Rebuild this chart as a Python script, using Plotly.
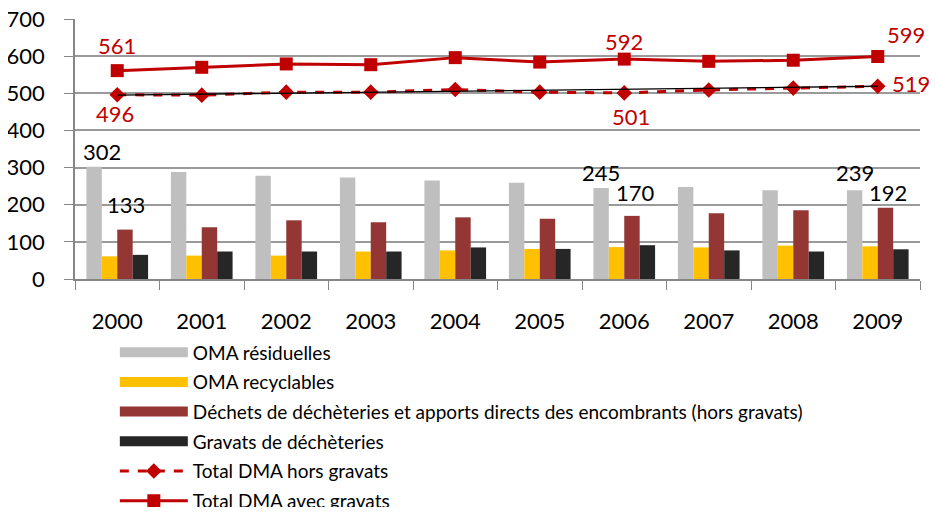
import plotly.graph_objects as go

years = ["2000", "2001", "2002", "2003", "2004", "2005", "2006", "2007", "2008", "2009"]
oma_residuelles = [302, 288, 278, 273, 265, 259, 245, 248, 239, 239]
oma_recyclables = [61, 63, 63, 74, 77, 81, 86, 85, 90, 88]
decheteries = [133, 139, 158, 153, 166, 162, 170, 177, 185, 192]
gravats = [65, 74, 74, 74, 85, 81, 91, 77, 74, 80]
total_hors_gravats = [496, 495, 503, 503, 510, 503, 501, 509, 514, 519]
total_avec_gravats = [561, 570, 579, 577, 596, 584, 592, 586, 589, 599]
trend_years = ["2000", "2009"]
trend_values = [495, 519]

names = ["OMA résiduelles", "OMA recyclables",
         "Déchets de déchèteries et apports directs des encombrants (hors gravats)",
         "Gravats de déchèteries", "Total DMA hors gravats", "Total DMA avec gravats"]
bar_colors = ["#BFBFBF", "#FFC000", "#943634", "#262626"]
RED = "#C00000"
FONT = "Lato"

fig = go.Figure()
for vals, col in zip([oma_residuelles, oma_recyclables, decheteries, gravats], bar_colors):
    fig.add_trace(go.Bar(x=years, y=vals, marker=dict(color=col, line=dict(width=0)),
                         showlegend=False))

fig.add_trace(go.Scatter(x=years, y=total_hors_gravats, mode="lines+markers",
                         line=dict(color=RED, width=3, dash="dash"),
                         marker=dict(symbol="diamond", size=12, color=RED),
                         showlegend=False))
fig.add_trace(go.Scatter(x=trend_years, y=trend_values, mode="lines",
                         line=dict(color="black", width=1.3), showlegend=False))
fig.add_trace(go.Scatter(x=years, y=total_avec_gravats, mode="lines+markers",
                         line=dict(color=RED, width=3),
                         marker=dict(symbol="square", size=13, color=RED),
                         showlegend=False))

# legend entries (no visible data)
for i, col in enumerate(bar_colors):
    fig.add_trace(go.Scatter(x=[years[0]], y=[None], mode="lines", name=names[i],
                             line=dict(color=col, width=13), legendgroup=str(i)))
fig.add_trace(go.Scatter(x=[years[0]], y=[None], mode="lines+markers", name=names[4],
                         line=dict(color=RED, width=3, dash="dash"),
                         marker=dict(symbol="diamond", size=12, color=RED), legendgroup="4"))
fig.add_trace(go.Scatter(x=[years[0]], y=[None], mode="lines+markers", name=names[5],
                         line=dict(color=RED, width=3),
                         marker=dict(symbol="square", size=13, color=RED), legendgroup="5"))

# data labels (category axis annotations use the category index)
labels = [
    (0, oma_residuelles[0], -15, 15, "black"),
    (0, decheteries[0], 9, 25, "black"),
    (6, oma_residuelles[6], -23, 16, "black"),
    (6, decheteries[6], 11, 23, "black"),
    (9, oma_residuelles[9], -23, 18, "black"),
    (9, decheteries[9], 10, 15, "black"),
    (0, total_avec_gravats[0], 0, 25, RED),
    (0, total_hors_gravats[0], -2, -19, RED),
    (6, total_avec_gravats[6], 0, 18, RED),
    (6, total_hors_gravats[6], 7, -24, RED),
    (9, total_avec_gravats[9], 28, 22, RED),
    (9, total_hors_gravats[9], 33, 3, RED),
]
for xi, y, xs, ys, c in labels:
    fig.add_annotation(x=xi, y=y, xref="x", yref="y", text=str(y), showarrow=False,
                       xshift=xs, yshift=ys, yanchor="middle",
                       font=dict(family=FONT, size=22, color=c))

fig.update_layout(
    width=921, height=499,
    margin=dict(l=67, r=9, t=11, b=228, autoexpand=False),
    paper_bgcolor="white", plot_bgcolor="white",
    barmode="group", bargap=0.27, bargroupgap=0,
    font=dict(family=FONT, color="black"),
    showlegend=True,
    legend=dict(xref="container", yref="container", x=0.116, y=0.348,
                xanchor="left", yanchor="top",
                font=dict(family=FONT, size=19, color="black"),
                itemwidth=68, tracegroupgap=2, bgcolor="rgba(0,0,0,0)"),
    xaxis=dict(type="category", categoryorder="array", categoryarray=years,
               range=[-0.5, 9.5], tickson="boundaries", ticks="outside", ticklen=9,
               tickcolor="#868686", showline=True, linecolor="#868686", linewidth=1.5,
               tickfont=dict(family=FONT, size=22), ticklabelstandoff=22, showgrid=False),
    yaxis=dict(range=[0, 700], dtick=100, ticks="outside", ticklen=9, tickcolor="#868686",
               showline=True, linecolor="#868686", linewidth=1.5, showgrid=True,
               gridcolor="#9A9A9A", gridwidth=1.5, zeroline=False,
               ticklabeloverflow="allow",
               tickfont=dict(family=FONT, size=22), ticklabelstandoff=15),
)

fig.write_html("out.html")
